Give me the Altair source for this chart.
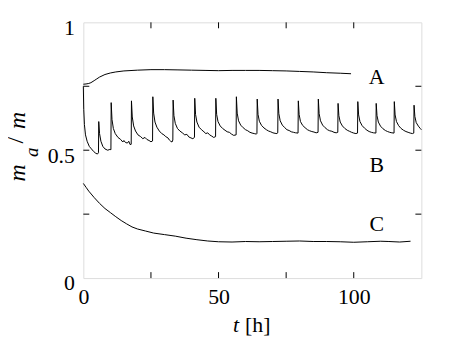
import altair as alt
import pandas as pd

# ---- data ----
t_A = [0, 1, 2, 2.8, 4, 5, 6, 8, 10, 12, 15, 20, 25, 30, 35, 40, 45, 50, 55, 60, 65, 70, 75, 80, 85, 90, 95, 99]
m_A = [0.758, 0.759, 0.761, 0.764, 0.772, 0.779, 0.786, 0.796, 0.802, 0.806, 0.810, 0.813, 0.815, 0.815, 0.814, 0.813, 0.812, 0.811, 0.812, 0.812, 0.812, 0.811, 0.810, 0.808, 0.806, 0.803, 0.801, 0.799]

t_B = [0, 0.15, 0.4, 0.8, 1.4, 2.2, 3.0, 3.8, 4.6, 5.2, 5.6,
       5.7, 6.0, 6.5, 7.2, 8.0, 9.0, 9.8, 10.2,
       10.3, 10.6, 11.1, 11.8, 12.8, 13.8, 14.6, 15.0, 15.6, 16.3, 16.8, 17.3, 17.7,
       17.8, 18.1, 18.6, 19.3, 20.2, 21.2, 22.0, 22.8, 23.5, 24.3, 25.0, 25.6,
       25.7, 26.0, 26.5, 27.2, 28.1, 29.0, 29.8, 30.5, 31.3, 31.8, 32.3, 32.8, 33.1,
       33.2, 33.5, 34.0, 34.8, 35.7, 36.6, 37.5, 38.3, 39.0, 39.8, 40.5, 41.1,
       41.2, 41.5, 42.0, 42.8, 43.7, 44.6, 45.3, 46.0, 46.7, 47.5, 48.2, 48.9,
       49.0, 49.3, 49.8, 50.6, 51.5, 52.4, 53.2, 54.0, 54.8, 55.6, 56.5,
       56.6, 56.9, 57.4, 58.2, 59.1, 60.0, 60.8, 61.6, 62.4, 63.2, 64.0, 64.2,
       64.3, 64.6, 65.1, 65.9, 66.8, 67.7, 68.5, 69.3, 70.1, 70.9, 71.6, 71.9,
       72.0, 72.3, 72.8, 73.6, 74.5, 75.3, 76.1, 76.9, 77.7, 78.5, 79.4,
       79.5, 79.8, 80.3, 81.1, 82.0, 82.9, 83.7, 84.5, 85.3, 86.1, 86.8,
       86.9, 87.2, 87.7, 88.5, 89.4, 90.3, 91.1, 91.9, 92.7, 93.5, 94.1,
       94.2, 94.5, 95.0, 95.8, 96.7, 97.6, 98.4, 99.2, 100.0, 100.8, 101.4,
       101.5, 101.8, 102.3, 103.1, 104.0, 104.9, 105.7, 106.5, 107.3, 108.2,
       108.3, 108.6, 109.1, 109.9, 110.8, 111.7, 112.5, 113.3, 114.1, 114.9,
       115.0, 115.3, 115.8, 116.6, 117.5, 118.4, 119.3, 120.1, 120.9, 121.7, 122.2,
       122.3, 122.6, 123.1, 123.9, 124.6, 125.0]
m_B = [0.750, 0.660, 0.600, 0.560, 0.535, 0.515, 0.505, 0.495, 0.488, 0.485, 0.490,
       0.612, 0.565, 0.535, 0.515, 0.505, 0.500, 0.503, 0.502,
       0.686, 0.620, 0.585, 0.565, 0.550, 0.542, 0.532, 0.538, 0.530, 0.528, 0.535, 0.522, 0.523,
       0.693, 0.630, 0.595, 0.575, 0.560, 0.553, 0.545, 0.550, 0.542, 0.538, 0.533, 0.536,
       0.709, 0.645, 0.610, 0.590, 0.575, 0.565, 0.560, 0.553, 0.548, 0.540, 0.535, 0.532, 0.540,
       0.696, 0.635, 0.605, 0.585, 0.575, 0.568, 0.560, 0.562, 0.552, 0.548, 0.545, 0.550,
       0.703, 0.640, 0.610, 0.590, 0.580, 0.572, 0.565, 0.568, 0.560, 0.555, 0.550, 0.553,
       0.703, 0.640, 0.612, 0.595, 0.585, 0.578, 0.572, 0.570, 0.563, 0.558, 0.560,
       0.709, 0.645, 0.615, 0.598, 0.588, 0.580, 0.576, 0.570, 0.567, 0.565, 0.563, 0.566,
       0.700, 0.640, 0.613, 0.597, 0.587, 0.580, 0.575, 0.572, 0.568, 0.566, 0.565, 0.568,
       0.700, 0.643, 0.615, 0.598, 0.588, 0.580, 0.577, 0.572, 0.570, 0.568, 0.567,
       0.693, 0.640, 0.612, 0.597, 0.588, 0.580, 0.576, 0.573, 0.571, 0.568, 0.570,
       0.700, 0.643, 0.615, 0.598, 0.588, 0.580, 0.576, 0.574, 0.570, 0.568, 0.570,
       0.683, 0.635, 0.610, 0.595, 0.585, 0.578, 0.574, 0.570, 0.567, 0.565, 0.567,
       0.690, 0.638, 0.612, 0.596, 0.586, 0.578, 0.573, 0.570, 0.568, 0.567,
       0.683, 0.635, 0.610, 0.594, 0.584, 0.577, 0.573, 0.570, 0.568, 0.567,
       0.690, 0.638, 0.612, 0.596, 0.585, 0.578, 0.573, 0.570, 0.567, 0.565, 0.567,
       0.676, 0.632, 0.608, 0.594, 0.585, 0.580]

t_C = [0, 1, 2, 4, 6, 8, 10, 12, 14, 16, 18, 20, 23, 26, 30, 34, 38, 42, 46, 50, 55, 60, 65, 70, 75, 80, 85, 90, 95, 100, 105, 110, 113, 117, 121]
m_C = [0.370, 0.355, 0.340, 0.315, 0.292, 0.272, 0.256, 0.240, 0.225, 0.212, 0.200, 0.192, 0.184, 0.176, 0.170, 0.164, 0.156, 0.150, 0.145, 0.142, 0.141, 0.143, 0.142, 0.143, 0.144, 0.145, 0.143, 0.143, 0.142, 0.140, 0.142, 0.144, 0.143, 0.141, 0.144]

series_labels = ["A", "B", "C"]
label_t = [108.5, 108.5, 108.5]
label_m = [0.787, 0.44, 0.21]

x_ticks = [25, 50, 75, 100]
y_ticks = [0.25, 0.5, 0.75]
x_label_values = [0, 50, 100]
y_label_values = [0, 0.5, 1]

W, H = 341, 258
FONT = "'Liberation Serif', serif"

df = pd.concat([
    pd.DataFrame({"t": t_A, "m": m_A, "series": "A"}),
    pd.DataFrame({"t": t_B, "m": m_B, "series": "B"}),
    pd.DataFrame({"t": t_C, "m": m_C, "series": "C"}),
])
lab_df = pd.DataFrame({"t": label_t, "m": label_m, "lab": series_labels})
xt_df = pd.DataFrame({"t": x_ticks})
yt_df = pd.DataFrame({"m": y_ticks})
one = pd.DataFrame({"k": [0]})

xs = alt.Scale(domain=[0, 125], nice=False, zero=False)
ys = alt.Scale(domain=[0, 1], nice=False, zero=False)

x_axis = alt.Axis(values=x_label_values, title=None, tickSize=0, domain=False, grid=False,
                  labelFont=FONT, labelFontSize=22, labelColor="black", labelPadding=9,
                  labelFlush=False, labelExpr="'' + datum.value")
y_axis = alt.Axis(values=y_label_values, title=None, tickSize=0, domain=False, grid=False,
                  labelFont=FONT, labelFontSize=22, labelColor="black", labelPadding=9,
                  labelFlush=False, labelBaseline="middle", labelOffset=5,
                  labelExpr="'' + datum.value")

lines = alt.Chart(df).mark_line(color="black", strokeWidth=1).encode(
    x=alt.X("t:Q", scale=xs, axis=x_axis),
    y=alt.Y("m:Q", scale=ys, axis=y_axis),
    detail="series:N",
)

labels = alt.Chart(lab_df).mark_text(font=FONT, fontSize=22, color="black",
                                     align="center", baseline="middle").encode(
    x=alt.X("t:Q", scale=xs), y=alt.Y("m:Q", scale=ys), text="lab:N")

tick_bottom = alt.Chart(xt_df).mark_rule(color="black", strokeWidth=1).encode(
    x=alt.X("t:Q", scale=xs), y=alt.value(H), y2=alt.value(H - 6))
tick_top = alt.Chart(xt_df).mark_rule(color="black", strokeWidth=1).encode(
    x=alt.X("t:Q", scale=xs), y=alt.value(0), y2=alt.value(6))
tick_left = alt.Chart(yt_df).mark_rule(color="black", strokeWidth=1).encode(
    y=alt.Y("m:Q", scale=ys), x=alt.value(0), x2=alt.value(6))
tick_right = alt.Chart(yt_df).mark_rule(color="black", strokeWidth=1).encode(
    y=alt.Y("m:Q", scale=ys), x=alt.value(W), x2=alt.value(W - 6))

def txt(s, x, y, size=22, style="normal", baseline="alphabetic", angle=0):
    return alt.Chart(one).mark_text(text=s, font=FONT, fontSize=size, fontStyle=style,
                                    color="black", align="center", baseline=baseline,
                                    angle=angle).encode(x=alt.value(x), y=alt.value(y))

ytitle = (txt("m", -59, 152, 24, "italic", angle=270)
          + txt("a", -46, 131, 19, "italic", angle=270)
          + txt("/", -61, 119, 24, "normal", angle=270)
          + txt("m", -59, 99, 24, "italic", angle=270))
xtitle = (txt("t", 154, 312, 22, "italic")
          + txt("[h]", 176, 312, 22, "normal"))

chart = alt.layer(lines, labels, tick_bottom, tick_top, tick_left, tick_right, ytitle, xtitle).properties(
    width=W, height=H,
    autosize=alt.AutoSizeParams(type="none"),
    padding={"left": 76, "top": 13, "right": 40, "bottom": 60},
).configure_view(stroke="black", strokeWidth=1).configure(background="white")

chart.save("out.html", embed_options={"renderer": "svg", "actions": False})
